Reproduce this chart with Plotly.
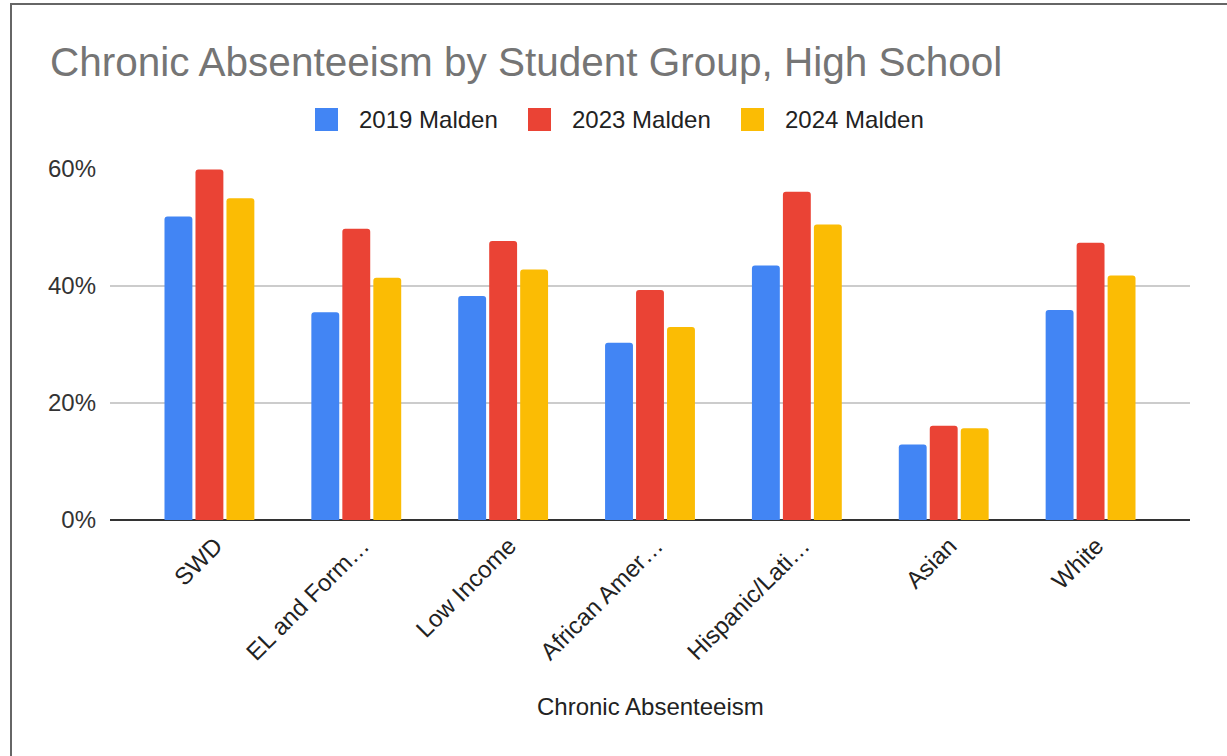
import plotly.graph_objects as go

# Student groups (axis labels as shown, truncated by the chart)
groups = ["SWD", "EL and Form…", "Low Income", "African Amer…",
          "Hispanic/Lati…", "Asian", "White"]

# Chronic absenteeism rates (fraction of students)
series_names = ["2019 Malden", "2023 Malden", "2024 Malden"]
rate_2019 = [0.519, 0.355, 0.383, 0.303, 0.435, 0.129, 0.359]
rate_2023 = [0.599, 0.498, 0.477, 0.393, 0.561, 0.161, 0.474]
rate_2024 = [0.550, 0.414, 0.428, 0.330, 0.505, 0.157, 0.418]
series_values = [rate_2019, rate_2023, rate_2024]
series_colors = ["#4285F4", "#EA4335", "#FBBC04"]

y_ticks = [0, 0.2, 0.4, 0.6]
y_tick_text = ["0%", "20%", "40%", "60%"]

W, H = 1227, 756
ML, MR, MT, MB = 110, 37, 169, 236
PW, PH = W - ML - MR, H - MT - MB
FONT = "Arial, Liberation Sans, sans-serif"


def px_x(x):
    return (x - ML) / PW


def px_y(y):
    return (H - MB - y) / PH


fig = go.Figure()
for name, vals, col in zip(series_names, series_values, series_colors):
    fig.add_trace(go.Bar(x=groups, y=vals, name=name, marker_color=col,
                         marker_line_width=0, showlegend=False))

# Legend drawn as coloured squares with labels
shapes = []
annotations = []
leg_x0 = 315
for i, (name, col) in enumerate(zip(series_names, series_colors)):
    x0 = leg_x0 + i * 213
    shapes.append(dict(type="rect", xref="paper", yref="paper",
                       x0=px_x(x0), x1=px_x(x0 + 23),
                       y0=px_y(131), y1=px_y(108),
                       fillcolor=col, line_width=0, layer="above"))
    annotations.append(dict(text=name, xref="paper", yref="paper",
                            x=px_x(x0 + 42), y=px_y(119.5),
                            xanchor="left", yanchor="middle", showarrow=False,
                            font=dict(family=FONT, size=24, color="#222222")))

# Outer frame around the chart
shapes.append(dict(type="rect", xref="paper", yref="paper",
                   x0=px_x(11), x1=px_x(W + 20), y0=px_y(H + 20), y1=px_y(4),
                   line=dict(color="#666666", width=2), fillcolor="rgba(0,0,0,0)",
                   layer="above"))

# X-axis title
annotations.append(dict(text="Chronic Absenteeism", xref="paper", yref="paper",
                        x=px_x(650), y=px_y(706), xanchor="center", yanchor="middle",
                        showarrow=False,
                        font=dict(family=FONT, size=24, color="#222222")))

fig.update_layout(
    width=W, height=H,
    margin=dict(l=ML, r=MR, t=MT, b=MB, pad=0),
    paper_bgcolor="white", plot_bgcolor="white",
    barmode="group", bargap=0.367, bargroupgap=0.1, barcornerradius=3,
    title=dict(text="Chronic Absenteeism by Student Group, High School",
               x=50 / W, xref="container", xanchor="left",
               y=1 - 62 / H, yref="container", yanchor="middle",
               font=dict(family=FONT, size=40.5, color="#757575")),
    font=dict(family=FONT, size=24, color="#333333"),
    shapes=shapes, annotations=annotations,
    xaxis=dict(range=[-0.677, 6.677], tickangle=-45, showgrid=False,
               showline=False, ticks="", automargin=False,
               ticklabelstandoff=6, ticklabelshift=6,
               tickfont=dict(family=FONT, size=24, color="#222222")),
    yaxis=dict(range=[0, 0.6], tickvals=y_ticks, ticktext=y_tick_text,
               showgrid=True, gridcolor="#cccccc", gridwidth=1.5,
               zeroline=True, zerolinecolor="#333333", zerolinewidth=2,
               showline=False, ticks="", ticklabelstandoff=13, automargin=False,
               tickfont=dict(family=FONT, size=24, color="#333333")),
)

fig.write_html("out.html")
